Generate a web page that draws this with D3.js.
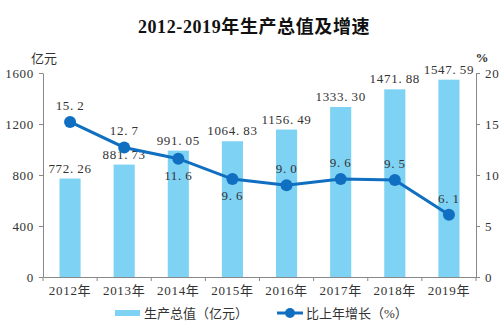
<!DOCTYPE html>
<html>
<head>
<meta charset="utf-8">
<script src="https://cdn.jsdelivr.net/npm/d3@7"></script>
<style>
  body { margin: 0; background: #fff; }
  svg text { font-family: "Liberation Serif", "Noto Sans CJK SC", serif; fill: #333; }
  .num { letter-spacing: 0.7px; }
</style>
</head>
<body>
<svg id="chart" width="504" height="327"></svg>
<script>
const years = ["2012年", "2013年", "2014年", "2015年", "2016年", "2017年", "2018年", "2019年"];
const output = [772.26, 881.73, 991.05, 1064.83, 1156.49, 1333.30, 1471.88, 1547.59];
const growth = [15.2, 12.7, 11.6, 9.6, 9.0, 9.6, 9.5, 6.1];
// growth labels drawn below the point instead of above
const growthBelow = [false, false, true, true, false, false, false, false];
const leftTicks = [0, 400, 800, 1200, 1600];
const rightTicks = [0, 5, 10, 15, 20];

const barColor = "#7ed2f4";
const lineColor = "#106fc0";
const axisColor = "#888";

const svg = d3.select("#chart");
const m = { left: 43, right: 476, top: 73, bottom: 277 };

const x = d3.scaleBand().domain(years).range([m.left, m.right]).paddingInner(0.61).paddingOuter(0.305);
const band = d3.scaleBand().domain(years).range([m.left, m.right]);
const yL = d3.scaleLinear().domain([0, 1600]).range([m.bottom, m.top]);
const yR = d3.scaleLinear().domain([0, 20]).range([m.bottom, m.top]);

// wide decimal point, as in the original number style
const fmt = (v, p) => v.toFixed(p).replace(".", ".\u2009");

// title
svg.append("text").attr("x", 254).attr("y", 33).attr("text-anchor", "middle")
  .style("font-size", "18px").style("font-weight", "600").style("fill", "#111")
  .style("letter-spacing", "0.6px")
  .text("2012-2019年生产总值及增速");

// bars
svg.selectAll("rect.bar").data(output).join("rect").attr("class", "bar")
  .attr("x", (d, i) => x(years[i])).attr("width", x.bandwidth())
  .attr("y", d => yL(d)).attr("height", d => yL(0) - yL(d))
  .attr("fill", barColor);

// bar value labels
svg.selectAll("text.bv").data(output).join("text").attr("class", "bv num")
  .attr("x", (d, i) => x(years[i]) + x.bandwidth() / 2)
  .attr("y", d => yL(d) - 6)
  .attr("text-anchor", "middle").style("font-size", "13px")
  .text(d => fmt(d, 2));

// axes
const styleAxis = g => {
  g.select(".domain").attr("stroke", axisColor);
  g.selectAll(".tick line").attr("stroke", axisColor);
  g.selectAll(".tick text").attr("class", "num").style("font-size", "13px").style("fill", "#333");
};
svg.append("g").attr("transform", `translate(${m.left},0)`)
  .call(d3.axisLeft(yL).tickValues(leftTicks).tickFormat(d3.format("d")).tickSize(4).tickSizeOuter(0).tickPadding(5))
  .call(styleAxis);
svg.append("g").attr("transform", `translate(${m.right},0)`)
  .call(d3.axisRight(yR).tickValues(rightTicks).tickFormat(d3.format("d")).tickSize(4).tickSizeOuter(0).tickPadding(5))
  .call(styleAxis);
const xAxis = svg.append("g").attr("transform", `translate(0,${m.bottom})`)
  .call(d3.axisBottom(band).tickSize(0).tickSizeOuter(0).tickPadding(9))
  .call(styleAxis);
// category boundary ticks
const bounds = years.map(d => band(d)).concat([m.right]);
xAxis.selectAll("line.bt").data(bounds).join("line").attr("class", "bt")
  .attr("x1", d => d).attr("x2", d => d).attr("y1", 0).attr("y2", 4)
  .attr("stroke", axisColor);

// unit labels
svg.append("text").attr("x", 44).attr("y", 63).attr("text-anchor", "middle")
  .style("font-size", "13px").text("亿元");
svg.append("text").attr("x", 482).attr("y", 62).attr("text-anchor", "middle")
  .style("font-size", "13px").style("font-weight", "bold").text("%");

// growth line
const cx = i => band(years[i]) + band.bandwidth() / 2;
const line = d3.line().x((d, i) => cx(i)).y(d => yR(d));
svg.append("path").datum(growth).attr("d", line)
  .attr("fill", "none").attr("stroke", lineColor).attr("stroke-width", 3);
svg.selectAll("circle.pt").data(growth).join("circle").attr("class", "pt")
  .attr("cx", (d, i) => cx(i)).attr("cy", d => yR(d)).attr("r", 6)
  .attr("fill", lineColor);
svg.selectAll("text.gv").data(growth).join("text").attr("class", "gv num")
  .attr("x", (d, i) => cx(i))
  .attr("y", (d, i) => growthBelow[i] ? yR(d) + 21 : yR(d) - 12)
  .attr("text-anchor", "middle").style("font-size", "13px")
  .text(d => fmt(d, 1));

// legend
const lg = svg.append("g");
lg.append("rect").attr("x", 115).attr("y", 310).attr("width", 25).attr("height", 6).attr("fill", barColor);
lg.append("text").attr("x", 144).attr("y", 318).style("font-size", "13px").text("生产总值（亿元）");
lg.append("line").attr("x1", 277).attr("x2", 303).attr("y1", 313).attr("y2", 313)
  .attr("stroke", lineColor).attr("stroke-width", 3);
lg.append("circle").attr("cx", 290).attr("cy", 313).attr("r", 5).attr("fill", lineColor);
lg.append("text").attr("x", 306).attr("y", 318).style("font-size", "13px").text("比上年增长（%）");
</script>
</body>
</html>
